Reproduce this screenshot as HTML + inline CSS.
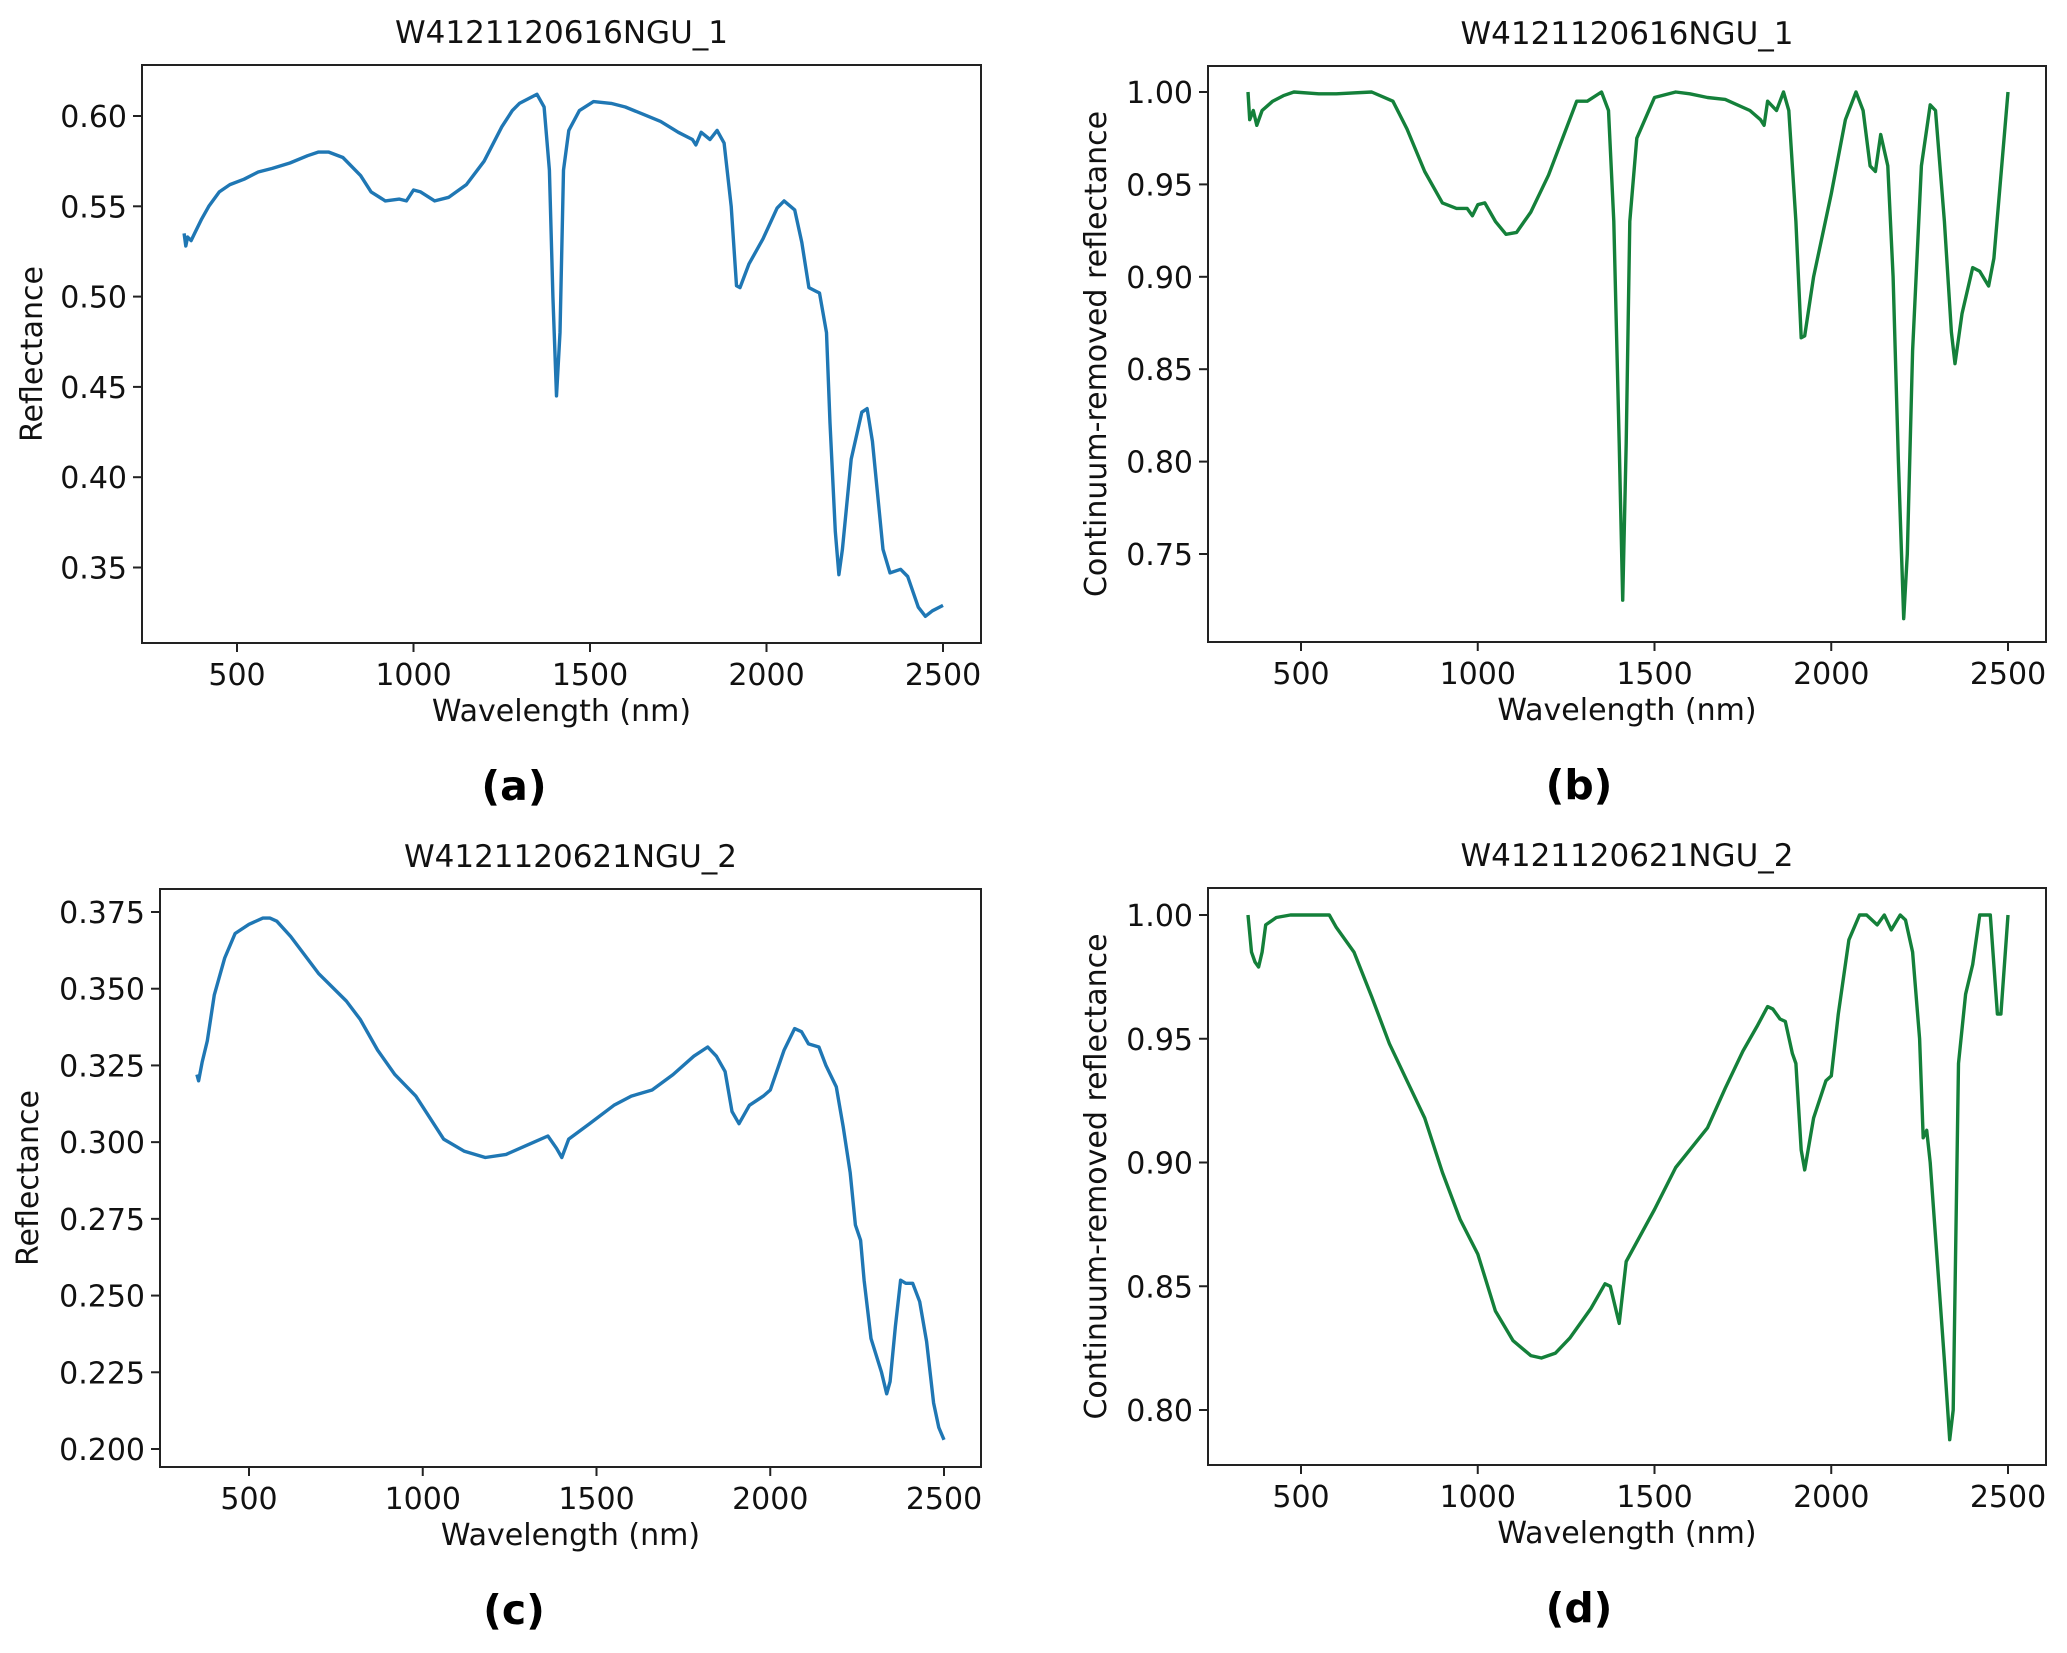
<!DOCTYPE html>
<html><head><meta charset="utf-8">
<style>
html,body{margin:0;padding:0;background:#fff;}
svg{display:block;font-family:"DejaVu Sans","Liberation Sans",sans-serif;}
</style></head>
<body>
<svg id="fig" width="2067" height="1653" viewBox="0 0 2067 1653" xmlns="http://www.w3.org/2000/svg"></svg>
<script>
// Panel (a) data
const aWl=[350,355,360,370,380,400,420,450,480,520,560,600,650,700,730,760,800,850,880,920,960,980,1000,1020,1060,1100,1150,1200,1250,1280,1300,1330,1350,1370,1385,1395,1405,1415,1425,1440,1470,1510,1560,1600,1650,1700,1750,1790,1800,1815,1840,1860,1880,1900,1915,1925,1950,1990,2030,2050,2080,2100,2120,2140,2150,2170,2180,2195,2205,2215,2240,2270,2285,2300,2330,2350,2380,2400,2430,2450,2470,2500];
const aVal=[.535,.528,.533,.531,.535,.543,.550,.558,.562,.565,.569,.571,.574,.578,.580,.580,.577,.567,.558,.553,.554,.553,.559,.558,.553,.555,.562,.575,.594,.603,.607,.610,.612,.605,.57,.50,.445,.48,.57,.592,.603,.608,.607,.605,.601,.597,.591,.587,.584,.591,.587,.592,.585,.55,.506,.505,.518,.532,.549,.553,.548,.53,.505,.503,.502,.48,.43,.37,.346,.36,.41,.436,.438,.42,.36,.347,.349,.345,.328,.323,.326,.329];
// Panel (b) data
const bWl=[350,355,365,375,390,420,450,480,550,600,700,760,800,850,900,940,970,985,1000,1020,1050,1080,1110,1150,1200,1250,1280,1310,1350,1370,1385,1400,1410,1420,1430,1450,1500,1560,1600,1650,1700,1770,1800,1810,1820,1845,1865,1880,1900,1915,1925,1950,2000,2040,2070,2090,2110,2125,2140,2160,2175,2190,2205,2215,2230,2255,2280,2295,2320,2340,2350,2370,2400,2420,2445,2460,2500];
const bVal=[1.0,.985,.99,.982,.99,.995,.998,1.0,.999,.999,1.0,.995,.98,.957,.94,.937,.937,.933,.939,.94,.93,.923,.924,.935,.955,.98,.995,.995,1.0,.99,.93,.81,.725,.81,.93,.975,.997,1.0,.999,.997,.996,.99,.985,.982,.995,.99,1.0,.99,.93,.867,.868,.9,.945,.985,1.0,.99,.96,.957,.977,.96,.9,.8,.715,.75,.86,.96,.993,.99,.93,.87,.853,.88,.905,.903,.895,.91,1.0];
// Panel (c) data
const cWl=[350,355,365,380,400,430,460,500,540,560,580,620,700,780,820,870,920,980,1020,1060,1120,1180,1240,1300,1360,1385,1400,1420,1480,1550,1600,1660,1720,1780,1820,1845,1870,1890,1910,1940,1980,2000,2040,2070,2090,2110,2140,2160,2190,2210,2230,2245,2260,2270,2290,2320,2335,2345,2360,2375,2390,2410,2430,2450,2470,2485,2500];
const cVal=[.322,.320,.326,.333,.348,.360,.368,.371,.373,.373,.372,.367,.355,.346,.340,.330,.322,.315,.308,.301,.297,.295,.296,.299,.302,.298,.295,.301,.306,.312,.315,.317,.322,.328,.331,.328,.323,.31,.306,.312,.315,.317,.330,.337,.336,.332,.331,.325,.318,.305,.29,.273,.268,.255,.236,.225,.218,.222,.24,.255,.254,.254,.248,.235,.215,.207,.203];
// Panel (d) data
const dWl=[350,360,370,380,390,400,430,470,550,580,600,650,700,750,800,850,900,950,1000,1050,1100,1150,1180,1220,1260,1320,1360,1375,1400,1420,1500,1560,1650,1700,1750,1790,1820,1835,1855,1870,1890,1900,1915,1925,1950,1985,2000,2020,2050,2080,2100,2130,2150,2170,2195,2210,2230,2250,2260,2270,2280,2300,2320,2335,2345,2360,2380,2400,2420,2450,2470,2480,2500];
const dVal=[1.0,.985,.981,.979,.985,.996,.999,1.0,1.0,1.0,.995,.985,.967,.948,.933,.918,.896,.877,.863,.84,.828,.822,.821,.823,.829,.841,.851,.85,.835,.86,.881,.898,.914,.93,.945,.955,.963,.962,.958,.957,.944,.94,.905,.897,.918,.933,.935,.96,.99,1.0,1.0,.996,1.0,.994,1.0,.998,.985,.95,.91,.913,.90,.86,.82,.788,.80,.94,.968,.98,1.0,1.0,.96,.96,1.0];
// Tick labels
const xTicks=[500,1000,1500,2000,2500];
const aYTicks=[0.35,0.40,0.45,0.50,0.55,0.60];
const bYTicks=[0.75,0.80,0.85,0.90,0.95,1.00];
const cYTicks=[0.200,0.225,0.250,0.275,0.300,0.325,0.350,0.375];
const dYTicks=[0.80,0.85,0.90,0.95,1.00];

const NS="http://www.w3.org/2000/svg";
const svg=document.getElementById('fig');
function mk(tag,attrs,parent){const e=document.createElementNS(NS,tag);for(const k in attrs)e.setAttribute(k,attrs[k]);(parent||svg).appendChild(e);return e;}

function panel(p){
  const g=mk('g',{});
  
  
  const sx=v=>p.x0+(v-500)*(p.x1-p.x0)/2000;
  const sy=v=>p.y0+(v-p.v0)*(p.y1-p.y0)/(p.v1-p.v0);
  let d='';
  for(let i=0;i<p.wl.length;i++){d+=(i?'L':'M')+sx(p.wl[i]).toFixed(1)+','+sy(p.val[i]).toFixed(1);}
  const path=mk('path',{d:d,fill:'none',stroke:p.color,'stroke-width':3.4,'stroke-linejoin':'round'},g);
  
  
  const fr=mk('rect',{x:p.L,y:p.T,width:p.R-p.L,height:p.B-p.T,fill:'none',stroke:'#222','stroke-width':2},g);
  
  
  xTicks.forEach(t=>{
    const x=sx(t);
    mk('line',{x1:x,y1:p.B,x2:x,y2:p.B+9,stroke:'#222','stroke-width':2},g);
    const tx=mk('text',{x:x,y:p.B+42,'text-anchor':'middle','font-size':30,fill:'#111'},g);
    tx.textContent=t;
    
    
  });
  p.yt.forEach(t=>{
    const y=sy(t);
    mk('line',{x1:p.L-9,y1:y,x2:p.L,y2:y,stroke:'#222','stroke-width':2},g);
    const tx=mk('text',{x:p.L-15,y:y+11,'text-anchor':'end','font-size':30,fill:'#111'},g);
    tx.textContent=t.toFixed(p.dec);
    
    
  });
  const cx=(p.L+p.R)/2;
  const ti=mk('text',{x:cx,y:p.T-22,'text-anchor':'middle','font-size':31,fill:'#111'},g);
  ti.textContent=p.title;
  
  
  const xl=mk('text',{x:cx,y:p.B+78,'text-anchor':'middle','font-size':30,fill:'#111'},g);
  xl.textContent='Wavelength (nm)';
  
  
  const ym=(p.T+p.B)/2;
  const yl=mk('text',{x:p.ylx,y:ym,'text-anchor':'middle','font-size':30,fill:'#111',transform:'rotate(-90 '+p.ylx+' '+ym+')'},g);
  yl.textContent=p.ylabel;
  
  
  const pl=mk('text',{x:p.plx,y:p.B+157,'text-anchor':'middle','font-size':41,'font-weight':'bold',fill:'#000'},g);
  pl.textContent='('+p.id+')';
  
  
}
const blue='#1f77b4', green='#14803a';
panel({id:'a',wl:aWl,val:aVal,yt:aYTicks,dec:2,color:blue,L:142,R:981,T:65,B:643,x0:237,x1:943,v0:0.60,y0:116,v1:0.35,y1:567.5,title:'W4121120616NGU_1',ylabel:'Reflectance',ylx:42,plx:514});
panel({id:'b',wl:bWl,val:bVal,yt:bYTicks,dec:2,color:green,L:1208,R:2046,T:66,B:642,x0:1301,x1:2008,v0:1.00,y0:92,v1:0.75,y1:554,title:'W4121120616NGU_1',ylabel:'Continuum-removed reflectance',ylx:1106,plx:1579});
panel({id:'c',wl:cWl,val:cVal,yt:cYTicks,dec:3,color:blue,L:160,R:981,T:889,B:1467,x0:249,x1:944,v0:0.375,y0:912,v1:0.200,y1:1449,title:'W4121120621NGU_2',ylabel:'Reflectance',ylx:38,plx:514});
panel({id:'d',wl:dWl,val:dVal,yt:dYTicks,dec:2,color:green,L:1208,R:2046,T:888,B:1465,x0:1301,x1:2008,v0:1.00,y0:915,v1:0.80,y1:1410,title:'W4121120621NGU_2',ylabel:'Continuum-removed reflectance',ylx:1106,plx:1579});
</script>
</body></html>
